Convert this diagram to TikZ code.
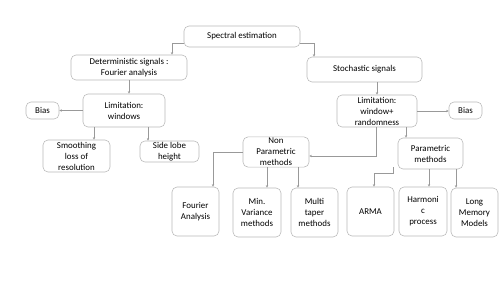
\documentclass[tikz,border=0pt]{standalone}
\usepackage{fontspec}
\setmainfont{Carlito}
\usetikzlibrary{arrows.meta,calc}
\tikzset{
  caja/.style={draw=gray!55, line width=0.5pt, rounded corners=0.15cm, align=center,
    inner sep=1pt, font=\fontsize{7.6}{9.4}\selectfont},
  flecha/.style={draw=gray!80, line width=0.45pt, -{Stealth[length=2.2pt,width=2pt]}}
}
\begin{document}
\begin{tikzpicture}[x=0.03cm,y=-0.03cm]
    \useasboundingbox (0,0) rectangle (500,281);
    % Nivel superior
    \node[caja, minimum width=3.48cm, minimum height=0.63cm] (spec) at (242,36.5) {Spectral estimation};
    \node[caja, minimum width=3.48cm, minimum height=0.75cm] (det) at (129,67.5) {Deterministic signals :\\Fourier analysis};
    \node[caja, minimum width=3.45cm, minimum height=0.75cm] (sto) at (364.5,69.5) {Stochastic signals};

    % Limitaciones
    \node[caja, minimum width=2.46cm, minimum height=0.99cm] (limw) at (124,110.5) {Limitation:\\windows};
    \node[caja, minimum width=0.99cm, minimum height=0.51cm] (biasl) at (42.5,110.5) {Bias};
    \node[caja, minimum width=2.4cm, minimum height=0.96cm] (lims) at (377,111) {Limitation:\\window+\\randomness};
    \node[caja, minimum width=0.99cm, minimum height=0.51cm] (biasr) at (465.5,110.5) {Bias};

    % Segundo nivel
    \node[caja, minimum width=2.01cm, minimum height=0.96cm] (smooth) at (76.5,156) {Smoothing\\loss of\\resolution};
    \node[caja, minimum width=1.77cm, minimum height=0.63cm] (side) at (169.5,151.5) {Side lobe\\height};
    \node[caja, minimum width=1.98cm, minimum height=0.9cm] (nonpar) at (276,152) {Non\\Parametric\\methods};
    \node[caja, minimum width=1.95cm, minimum height=0.93cm] (par) at (430.5,153.5) {Parametric\\methods};

    % Metodos
    \node[caja, minimum width=1.41cm, minimum height=1.47cm] (four) at (195.5,211.5) {Fourier\\Analysis};
    \node[caja, minimum width=1.44cm, minimum height=1.47cm] (minv) at (257,212.5) {Min.\\Variance\\methods};
    \node[caja, minimum width=1.41cm, minimum height=1.47cm] (multi) at (314.5,212.5) {Multi\\taper\\methods};
    \node[caja, minimum width=1.41cm, minimum height=1.47cm] (arma) at (370.5,211.5) {ARMA};
    \node[caja, minimum width=1.44cm, minimum height=1.47cm] (harm) at (423,211.5) {Harmoni\\c\\process};
    \node[caja, minimum width=1.41cm, minimum height=1.47cm] (long) at (474.5,212.5) {Long\\Memory\\Models};

    % Puntos de salida
    \coordinate (s1) at ($(limw.south)+(-30,0)$);
    \coordinate (s2) at ($(limw.south)+(24,0)$);
    \coordinate (s3) at ($(lims.south)+(29,0)$);
    \coordinate (s4) at ($(nonpar.south)+(-9,0)$);
    \coordinate (s5) at ($(nonpar.south)+(22,0)$);
    \coordinate (s6) at ($(par.south)+(-1.5,0)$);
    \coordinate (s7) at ($(par.south)+(25.5,0)$);

    % Conectores
    \draw[flecha] ($(spec.west)+(0,6.5)$) -| ($(det.north)+(43,0)$);
    \draw[flecha] ($(spec.east)+(0,6.5)$) -| ($(sto.north)+(-50.5,0)$);
    \draw[flecha] (det.south) -- (det.south |- limw.north);
    \draw[flecha] (limw.west) -- (biasl.east);
    \draw[flecha] (lims.north |- sto.south) -- (lims.north);
    \draw[flecha] (lims.east) -- (lims.east -| biasr.west);
    \draw[flecha] (s1) -- (s1 |- smooth.north);
    \draw[flecha] (s2) -- (s2 |- side.north);
    \draw[flecha] ($(lims.south)+(-1,0)$) |- ($(nonpar.east)+(0,4)$);
    \draw[flecha] (s3) -- (s3 |- par.north);
    \draw[flecha] (nonpar.west) -| ($(four.north)+(17.5,0)$);
    \draw[flecha] (s4) -- (s4 |- minv.north);
    \draw[flecha] (s5) -- (s5 |- multi.north);
    \draw[flecha] ($(par.south west)+(-4,-2)$) -- ++(0,6) -| ($(arma.north)+(3.5,0)$);
    \draw[flecha] (s6) -- (s6 |- harm.north);
    \draw[flecha] (s7) -- (s7 |- long.north);
\end{tikzpicture}
\end{document}
